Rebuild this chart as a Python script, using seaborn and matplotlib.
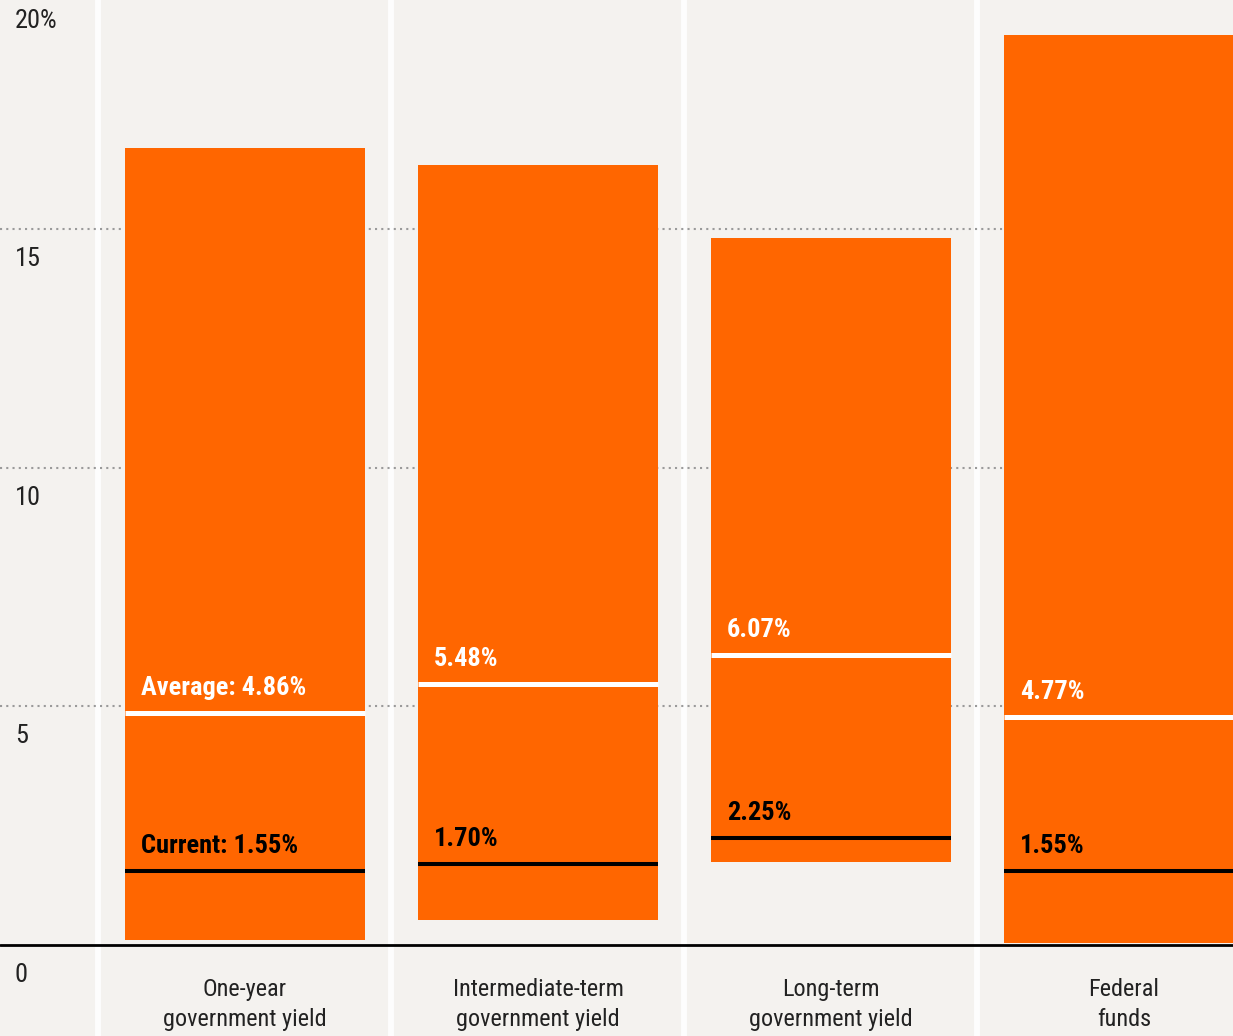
import matplotlib
matplotlib.use("Agg")
import matplotlib.pyplot as plt
import matplotlib.font_manager as fm
import seaborn as sns
import pandas as pd
import numpy as np

# ---- data ----
categories = ["One-year\ngovernment yield", "Intermediate-term\ngovernment yield",
              "Long-term\ngovernment yield", "Federal\nfunds"]
high = [16.71, 16.35, 14.82, 19.08]
low = [0.10, 0.52, 1.74, 0.04]
average = [4.86, 5.48, 6.07, 4.77]
current = [1.55, 1.70, 2.25, 1.55]
y_ticks = [0, 5, 10, 15, 20]
y_tick_labels = ["0", "5", "10", "15", "20%"]

sns.set_theme(style="white")

# pick a condensed family if available
names = {f.name for f in fm.fontManager.ttflist}
cond = None
for cand in ["Roboto Condensed", "Liberation Sans Narrow", "Open Sans Condensed"]:
    if cand in names:
        cond = cand
        break
if cond is None:
    has_dvc = any(f.name == "DejaVu Sans" and f.stretch == "condensed" for f in fm.fontManager.ttflist)
    fam = "DejaVu Sans"
    stretch = "condensed" if has_dvc else "normal"
else:
    fam = cond
    stretch = "normal"
plt.rcParams["font.family"] = [fam, "DejaVu Sans"]
plt.rcParams["font.stretch"] = stretch

BG = "#F4F2EF"
ORANGE = "#FF6600"

fig = plt.figure(figsize=(12.33, 10.36), dpi=100, facecolor=BG)
ax = fig.add_axes([0, 0, 1, 1])
ax.set_facecolor(BG)

df = pd.DataFrame({"category": categories,
                   "span": np.array(high) - np.array(low),
                   "low": low})

# background separators and grid
for xs in np.arange(-0.5, len(categories) - 0.5, 1.0):
    ax.axvline(xs, color="#FDFDFD", lw=4.3, zorder=0)
for yv in [5, 10, 15]:
    ax.axhline(yv, color="#9a9a9a", lw=1.5, ls=(0, (1, 2)), zorder=0.5)

sns.barplot(data=df, x="category", y="span", bottom=df["low"].values,
            color=ORANGE, saturation=1, width=0.82, linewidth=0,
            errorbar=None, ax=ax, zorder=2)

half = 0.41
xpos = np.arange(len(categories))
ax.hlines(average, xpos - half, xpos + half, color="white", lw=3.6, zorder=3)
ax.hlines(current, xpos - half, xpos + half, color="black", lw=2.9, zorder=3)

ax.axhline(0, color="black", lw=2.0, zorder=4)

for i in range(len(categories)):
    lab_a = f"Average: {average[i]:.2f}%" if i == 0 else f"{average[i]:.2f}%"
    lab_c = f"Current: {current[i]:.2f}%" if i == 0 else f"{current[i]:.2f}%"
    ax.annotate(lab_a, xy=(xpos[i] - half, average[i]), xytext=(16, 18),
                textcoords="offset pixels", ha="left", va="baseline",
                color="white", fontsize=19, fontweight="bold", zorder=5)
    ax.annotate(lab_c, xy=(xpos[i] - half, current[i]), xytext=(16, 18),
                textcoords="offset pixels", ha="left", va="baseline",
                color="black", fontsize=19, fontweight="bold", zorder=5)
    ax.annotate(categories[i], xy=(xpos[i], 0), xytext=(0, -33),
                textcoords="offset pixels", ha="center", va="top",
                color="#222222", fontsize=17.5, linespacing=1.42, zorder=5)

for v, t in zip(y_ticks, y_tick_labels):
    ax.annotate(t, xy=(0, v), xycoords=("axes fraction", "data"),
                xytext=(15, -18), textcoords="offset pixels",
                ha="left", va="top", color="#222222", fontsize=19,
                annotation_clip=False, zorder=5)

ax.set_xlim(-0.836, 3.372)
ax.set_ylim(-1.91, 19.81)
ax.set_xlabel("")
ax.set_ylabel("")
ax.set_xticks([])
ax.set_yticks([])
for s in ax.spines.values():
    s.set_visible(False)

fig.savefig("out.png", dpi=100, facecolor=BG)
